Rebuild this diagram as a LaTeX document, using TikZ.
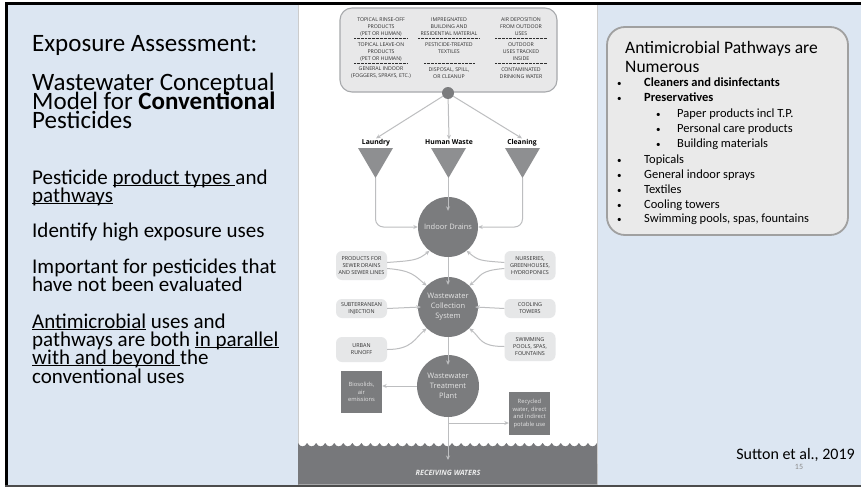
\documentclass[tikz,border=0pt]{standalone}
\usepackage{fontspec}
\setmainfont{Carlito}
\newfontfamily\dfont{Open Sans}
\usetikzlibrary{arrows.meta}
\definecolor{slideblue}{HTML}{DCE6F2}
\definecolor{circgrey}{HTML}{7B7C7E}
\definecolor{trigrey}{HTML}{8E8F91}
\definecolor{arrowgrey}{HTML}{BDBEC0}
\definecolor{boxgrey}{HTML}{E6E7E8}
\definecolor{topfill}{HTML}{E8E8E9}
\definecolor{topline}{HTML}{A7A9AC}
\definecolor{water}{HTML}{77787B}
\definecolor{rbfill}{HTML}{EAEAEA}
\definecolor{rbline}{HTML}{A0A0A0}
\definecolor{dtext}{HTML}{2E2E2E}
\definecolor{ctext}{HTML}{E4E4E4}
\newcommand\ulx[1]{\setbox0\hbox{#1}\rlap{\rule[-2.4pt]{\wd0}{1.1pt}}\box0\relax}
\begin{document}
\begin{tikzpicture}[x=1pt,y=-1pt,
  st/.style={anchor=base west,inner sep=0pt,text=black},
  tt/.style={font=\fontsize{25}{25}\selectfont},
  bt/.style={font=\fontsize{21}{21}\selectfont},
  rt/.style={anchor=base west,inner sep=0pt,text=black,font=\fontsize{12.5}{12.5}\selectfont},
  rbul/.style={anchor=base west,inner sep=0pt,text=black,font=\fontsize{9}{9}\selectfont},
  topt/.style={align=center,inner sep=0pt,text=dtext,font=\dfont\fontsize{5.2}{7}\selectfont},
  sbox/.style={fill=boxgrey,rounded corners=6pt,minimum width=51pt,align=center,inner sep=1pt,text=dtext,font=\dfont\fontsize{5.4}{7}\selectfont},
  circ/.style={circle,fill=circgrey,minimum size=60pt,inner sep=0pt,align=center,text=ctext,font=\dfont\fontsize{7.5}{10}\selectfont},
  lbl/.style={inner sep=0.5pt,text=black,font=\dfont\bfseries\fontsize{6.8}{7}\selectfont},
  dbox/.style={fill=circgrey,minimum width=41pt,align=center,inner sep=1pt,text=ctext,font=\dfont\fontsize{5.8}{7.7}\selectfont},
  arr/.style={draw=arrowgrey,line width=1pt,-{Stealth[length=4.5pt,width=4pt]}},
  sep/.style={draw=dtext,line width=0.45pt,dash pattern=on 0.45pt off 0.9pt}]
\useasboundingbox (0,0) rectangle (861,487);
\fill[white] (0,0) rectangle (861,487);
\fill[slideblue] (7,4) rectangle (861,485);
\fill[black] (5,2.5) rectangle (861,5);
\fill[black] (5,2.5) rectangle (8,486);
\fill[black!70] (5,484.5) rectangle (861,487);
% diagram panel
\fill[white] (298,5) rectangle (597,484.5);
\draw[black!20,line width=0.6pt] (298,5) -- (298,484.5) (597,5) -- (597,484.5);
% left text
\node[st,tt] (t1) at (32,52) {Exposure Assessment:};
\node[st,tt] (t2) at (32,90) {Wastewater Conceptual};
\node[st,tt] (t3) at (32,109) {Model for \textbf{Conventional}};
\node[st,tt] (t4) at (32,128) {Pesticides};
\node[st,bt] (b1) at (32,184) {Pesticide \ulx{product types }and};
\node[st,bt] (b2) at (32,202) {\ulx{pathways}};
\node[st,bt] (b3) at (32,237) {Identify high exposure uses};
\node[st,bt] (b4) at (32,273) {Important for pesticides that};
\node[st,bt] (b5) at (32,291) {have not been evaluated};
\node[st,bt] (b6) at (32,328) {\ulx{Antimicrobial} uses and};
\node[st,bt] (b7) at (32,346) {pathways are both \ulx{in parallel}};
\node[st,bt] (b8) at (32,364) {\ulx{with and beyond }the};
\node[st,bt] (b9) at (32,383) {conventional uses};
% right box
\draw[fill=rbfill,draw=rbline,line width=1.8pt,rounded corners=18pt] (607,27) rectangle (848,235);
\node[st,font=\fontsize{17.5}{17.5}\selectfont] (r0) at (625,54) {Antimicrobial Pathways are};
\node[st,font=\fontsize{17.5}{17.5}\selectfont] (r00) at (625,72) {Numerous};
\foreach \yy/\txt/\nm in {86/\textbf{Cleaners and disinfectants}/ra,101/\textbf{Preservatives}/rb,163/Topicals/rf,178/General indoor sprays/rg,193/Textiles/rh,208/Cooling towers/ri,222/{Swimming pools, spas, fountains}/rj}{
  \node[rbul] (\nm d) at (617,\yy) {\textbullet};
  \node[rt] (\nm) at (644,\yy) {\txt};
}
\foreach \yy/\txt/\nm in {117/Paper products incl T.P./rc,132/Personal care products/rd,147/Building materials/re}{
  \node[rbul] (\nm d) at (656,\yy) {\textbullet};
  \node[rt] (\nm) at (677,\yy) {\txt};
}
\node[anchor=base east,inner sep=0pt,font=\fontsize{16}{16}\selectfont] (sut) at (855,459) {Sutton et al., 2019};
\node[inner sep=0pt,text=black!45,font=\fontsize{8}{8}\selectfont] (pg) at (799,467) {15};
% top box
\draw[fill=topfill,draw=topline,line width=1.1pt,rounded corners=12pt] (340,8) rectangle (557,92);
\node[topt] (a1) at (381,27) {TOPICAL RINSE-OFF\\PRODUCTS\\(PET OR HUMAN)};
\node[topt] (a2) at (381,52) {TOPICAL LEAVE-ON\\PRODUCTS\\(PET OR HUMAN)};
\node[topt] (a3) at (381,73) {GENERAL INDOOR\\(FOGGERS, SPRAYS, ETC.)};
\node[topt] (b1x) at (449,27) {IMPREGNATED\\BUILDING AND\\RESIDENTIAL MATERIAL};
\node[topt] (b2x) at (449,48.5) {PESTICIDE-TREATED\\TEXTILES};
\node[topt] (b3x) at (449,73) {DISPOSAL, SPILL,\\OR CLEANUP};
\node[topt] (c1) at (521,27) {AIR DEPOSITION\\FROM OUTDOOR\\USES};
\node[topt] (c2) at (521,52) {OUTDOOR\\USES TRACKED\\INSIDE};
\node[topt] (c3) at (521,73) {CONTAMINATED\\DRINKING WATER};
\draw[sep] (354,38.5) -- (407,38.5) (354,63.5) -- (407,63.5);
\draw[sep] (418,38.5) -- (480,38.5) (424,63.5) -- (475,63.5);
\draw[sep] (495,38.5) -- (547,38.5) (495,63.5) -- (547,63.5);
% dot and labels
\node[lbl] (llaun) at (376,142.5) {Laundry};
\node[lbl] (lhum) at (449,142.5) {Human Waste};
\node[lbl] (lclean) at (522,142.5) {Cleaning};
\node[circle,fill=circgrey,minimum size=12pt,inner sep=0pt] (dot) at (448,93) {};
\draw[arr] (dot) -- (llaun.north);
\draw[arr] (dot) -- (lhum.north);
\draw[arr] (dot) -- (lclean.north);
% triangles
\fill[trigrey] (358,148) -- (393,148) -- (375.5,178) -- cycle;
\fill[trigrey] (431,148) -- (466,148) -- (448.5,178) -- cycle;
\fill[trigrey] (505,148) -- (540,148) -- (522.5,178) -- cycle;
\coordinate (tl) at (375.5,178);
\coordinate (th) at (448,178);
\coordinate (tc) at (522.5,178);
% circles
\node[circ] (idrain) at (448,227) {Indoor Drains};
\node[circ] (coll) at (448,307) {Wastewater\\Collection\\System};
\node[circ,minimum size=62pt] (treat) at (448,386) {Wastewater\\Treatment\\Plant};
\draw[arr,rounded corners=8pt] (tl) |- (idrain.west);
\draw[arr,rounded corners=8pt] (tc) |- (idrain.east);
\draw[arr] (th) -- ([yshift=-14pt]idrain.north);
\draw[arr] (idrain.south) -- ([yshift=-8pt]coll.north);
\draw[arr] (coll.south) -- ([yshift=-10pt]treat.north);
% side boxes
\node[sbox,minimum height=29pt] (pfs) at (361.5,265.5) {PRODUCTS FOR\\SEWER DRAINS\\AND SEWER LINES};
\node[sbox,minimum height=29pt] (nur) at (530,265.5) {NURSERIES,\\GREENHOUSES,\\HYDROPONICS};
\node[sbox,minimum height=19pt] (sub) at (361.5,308.5) {SUBTERRANEAN\\INJECTION};
\node[sbox,minimum height=19pt] (cool) at (530,308.5) {COOLING\\TOWERS};
\node[sbox,minimum height=25pt] (urb) at (361.5,349.5) {URBAN\\RUNOFF};
\node[sbox,minimum height=29pt] (swim) at (530,346.5) {SWIMMING\\POOLS, SPAS,\\FOUNTAINS};
\draw[arr] ([yshift=3pt]pfs.east) .. controls +(25,-2) and +(-12,10) .. (idrain.-128);
\draw[arr] ([yshift=-3pt]pfs.east) .. controls +(25,2) and +(-12,-10) .. (coll.135);
\draw[arr] ([yshift=3pt]nur.west) .. controls +(-25,-2) and +(12,10) .. (idrain.-52);
\draw[arr] ([yshift=-3pt]nur.west) .. controls +(-25,2) and +(12,-10) .. (coll.45);
\draw[arr] (sub.east) -- ([xshift=3pt]coll.west);
\draw[arr] (cool.west) -- ([xshift=-3pt]coll.east);
\draw[arr] (urb.east) .. controls +(25,0) and +(-12,10) .. (coll.-135);
\draw[arr] (swim.west) .. controls +(-25,0) and +(12,10) .. (coll.-45);
% outputs
\node[dbox,minimum height=42pt] (bio) at (361.5,392) {Biosolids,\\air\\emissions};
\node[dbox,minimum height=43pt] (rec) at (529.5,413.5) {Recycled\\water, direct\\and indirect\\potable use};
\draw[arr] (treat.west) -- (treat.west -| bio.east);
% water
\fill[water] (298,443) \foreach \i in {1,...,33} { .. controls +(2,4.5) and +(-2,4.5) .. ++(9.06,0) } -- (597,484.5) -- (298,484.5) -- cycle;
\coordinate (wtip) at (448,460);
\coordinate (br) at (448,423);
\draw[arr] (treat.south) -- (wtip);
\draw[arr] (br) -- (br -| rec.west);
\node[inner sep=0pt,text=white!92!black,font=\dfont\bfseries\itshape\fontsize{7.3}{8}\selectfont] (rw) at (448,473) {RECEIVING WATERS};
\end{tikzpicture}
\end{document}
